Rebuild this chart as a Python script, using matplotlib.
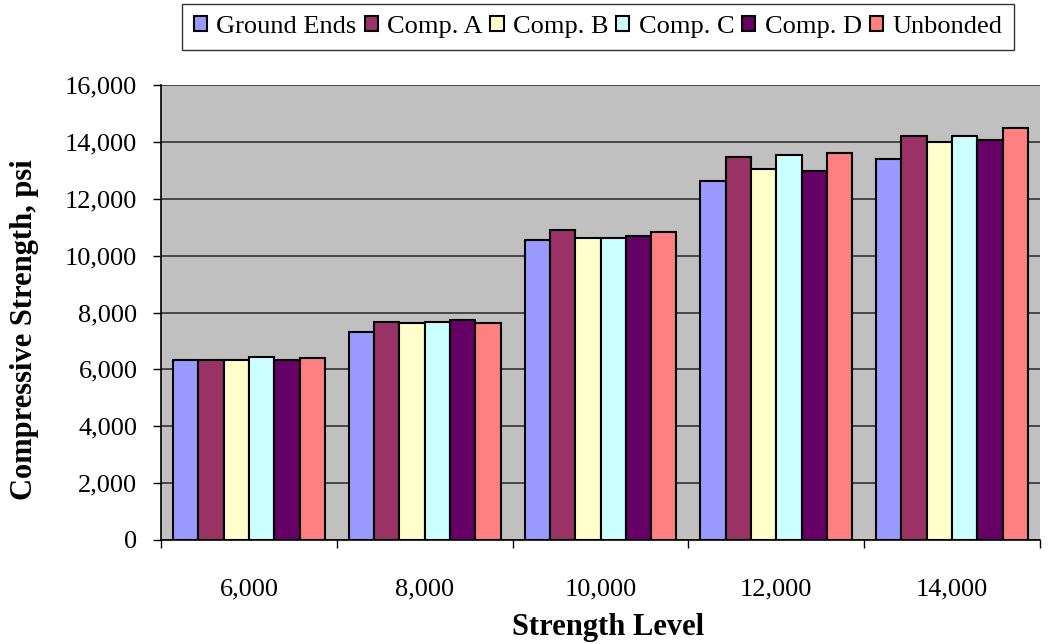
import numpy as np
import matplotlib.pyplot as plt
from matplotlib.ticker import FuncFormatter, FixedLocator

plt.rcParams['font.family'] = ['Liberation Serif', 'DejaVu Serif']

levels = ["6,000", "8,000", "10,000", "12,000", "14,000"]
series = ["Ground Ends", "Comp. A", "Comp. B", "Comp. C", "Comp. D", "Unbonded"]
ground_ends = [6340, 7330, 10560, 12620, 13390]
comp_a = [6340, 7680, 10910, 13460, 14210]
comp_b = [6330, 7620, 10620, 13040, 13990]
comp_c = [6420, 7680, 10620, 13540, 14210]
comp_d = [6340, 7750, 10690, 12970, 14060]
unbonded = [6410, 7620, 10840, 13600, 14490]
colors = ["#9999FF", "#993366", "#FFFFCC", "#CCFFFF", "#660066", "#FF8080"]

values = [ground_ends, comp_a, comp_b, comp_c, comp_d, unbonded]

fig = plt.figure(figsize=(10.5, 6.44), dpi=100)
ax = fig.add_axes([161/1050, 1-540/644, 879/1050, 455/644])
ax.set_facecolor("#C0C0C0")

x = np.arange(len(levels))
w = 0.144
for i, (name, vals) in enumerate(zip(series, values)):
    ax.bar(x + (i - 2.5) * w, vals, w, color=colors[i], edgecolor="black",
           linewidth=1.5, label=name, zorder=3)

ax.set_xlim(-0.5, len(levels) - 0.5)
ax.set_ylim(0, 16000)
ax.set_yticks(np.arange(0, 16001, 2000))
ax.yaxis.set_major_formatter(FuncFormatter(lambda v, p: f"{int(v):,}"))
ax.grid(axis="y", color="#333333", linewidth=1.2, zorder=0)

# category ticks sit between groups, labels at the group centres
ax.xaxis.set_major_locator(FixedLocator(np.arange(-0.5, len(levels), 1.0)))
ax.xaxis.set_major_formatter(FuncFormatter(lambda v, p: ""))
ax.xaxis.set_minor_locator(FixedLocator(x))
ax.set_xticklabels(levels, minor=True)
ax.tick_params(axis="x", which="minor", length=0, labelsize=19, pad=28)
ax.tick_params(axis="x", which="major", length=6, width=1, direction="out")
ax.tick_params(axis="y", labelsize=19, length=6, width=1, pad=11, direction="out")

for s in ["top", "right"]:
    ax.spines[s].set_visible(False)
ax.spines["left"].set_linewidth(1.2)
ax.spines["bottom"].set_linewidth(1.2)

ax.set_xlabel("Strength Level", fontsize=22, fontweight="bold", va="center")
ax.xaxis.set_label_coords((608-161)/879, (540-627)/455)
ax.set_ylabel("Compressive Strength, psi", fontsize=22, fontweight="bold",
              va="center", ha="center")
ax.yaxis.set_label_coords((25-161)/879, (540-330)/455)

leg = fig.legend(loc="upper center", bbox_to_anchor=(598/1050, 1-4/644), ncol=6,
                 fontsize=19, frameon=True, fancybox=False, handlelength=0.5,
                 handleheight=0.5, handletextpad=0.35, columnspacing=0.3,
                 borderpad=0.45, borderaxespad=0)
leg.get_frame().set_edgecolor("black")
leg.get_frame().set_linewidth(1.0)

fig.savefig("out.png", dpi=100)
